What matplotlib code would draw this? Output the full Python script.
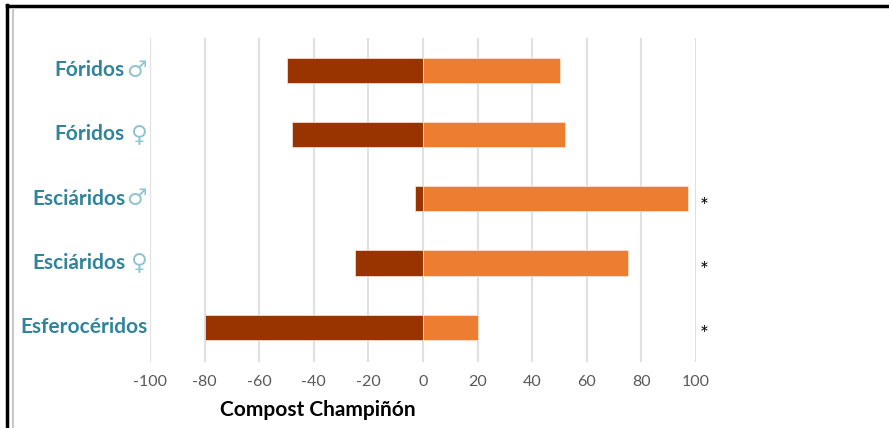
import matplotlib.pyplot as plt
from matplotlib.lines import Line2D

# data
groups = ['Fóridos', 'Fóridos', 'Esciáridos', 'Esciáridos', 'Esferocéridos']
symbols = ['♂', '♀', '♂', '♀', '']
negative = [-50, -48, -3, -25, -80]
positive = [50, 52, 97, 75, 20]
significant = [False, False, True, True, True]
xticks = [-100, -80, -60, -40, -20, 0, 20, 40, 60, 80, 100]

plt.rcParams['font.family'] = ['Lato', 'DejaVu Sans']

fig = plt.figure(figsize=(8.89, 4.28), dpi=100)
ax = fig.add_axes([150 / 889, 66 / 428, 546 / 889, 324 / 428])

ypos = list(range(len(groups)))
ax.barh(ypos, negative, height=0.39, color='#993300', edgecolor='#f3d9cc', linewidth=0.6, zorder=3)
ax.barh(ypos, positive, height=0.39, color='#ED7D31', edgecolor='#fbe0cd', linewidth=0.6, zorder=3)

ax.set_xlim(-100, 100)
ax.set_ylim(len(groups) - 0.46, -0.5)
ax.set_xticks(xticks)
ax.set_xticklabels([str(t) for t in xticks], color='#595959', fontsize=11.5)
ax.set_yticks([])
ax.tick_params(axis='x', length=0, pad=9)
ax.grid(axis='x', color='#e0e0e0', linewidth=1.5, zorder=0)
for s in ax.spines.values():
    s.set_visible(False)

# category labels with sex symbols
for y, name, sym in zip(ypos, groups, symbols):
    ax.annotate(sym, xy=(0, y), xycoords=('axes fraction', 'data'),
                xytext=(-3, 0), textcoords='offset pixels', ha='right', va='center',
                fontsize=16.5, color='#92c4cf', family=['DejaVu Sans'])
    off = -25 if sym else -2
    ax.annotate(name, xy=(0, y), xycoords=('axes fraction', 'data'),
                xytext=(off, 0), textcoords='offset pixels', ha='right', va='center',
                fontsize=15, fontweight='bold', color='#31849B')

# significance marks
for y, sig in zip(ypos, significant):
    if sig:
        ax.annotate('*', xy=(103, y), xycoords='data', ha='center', va='center',
                    xytext=(0, -8), textcoords='offset pixels',
                    fontsize=15, color='black', annotation_clip=False)

fig.text(318 / 889, 18 / 428, 'Compost Champiñón', ha='center', va='center',
         fontsize=15, fontweight='bold', color='black')

# frame pieces from the original screenshot
fig.add_artist(Line2D([7 / 889, 7 / 889], [0, 1 - 5 / 428], color='black', linewidth=2.5,
                      transform=fig.transFigure))
fig.add_artist(Line2D([7 / 889, 1], [1 - 6 / 428, 1 - 6 / 428], color='black', linewidth=2.5,
                      transform=fig.transFigure))
fig.add_artist(Line2D([13 / 889, 13 / 889], [0, 1 - 9 / 428], color='#c8c8c8', linewidth=1.5,
                      transform=fig.transFigure))

fig.savefig('out.png', dpi=100)
